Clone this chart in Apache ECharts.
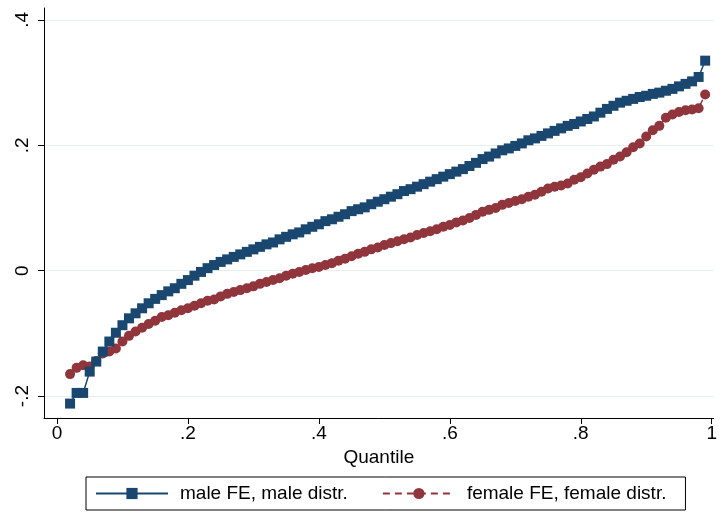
<!DOCTYPE html>
<html>
<head>
<meta charset="utf-8">
<script src="https://cdn.jsdelivr.net/npm/echarts@6/dist/echarts.min.js"></script>
<style>
  html, body { margin: 0; padding: 0; background: #ffffff; }
  #chart { width: 720px; height: 512px; }
</style>
</head>
<body>
<div id="chart"></div>
<script>
// Quantiles .02 … .99
const quantiles = [];
for (let i = 2; i <= 99; i++) quantiles.push(+(i / 100).toFixed(2));

// Male fixed effects evaluated on the male distribution
const maleFE = [
  -0.212, -0.195, -0.195, -0.161, -0.145, -0.129, -0.113, -0.099, -0.087, -0.076,
  -0.068, -0.060, -0.052, -0.045, -0.039, -0.033, -0.028, -0.021, -0.015, -0.008,
  -0.002,  0.004,  0.009,  0.014,  0.018,  0.022,  0.026,  0.030,  0.034,  0.038,
   0.042,  0.045,  0.050,  0.054,  0.058,  0.061,  0.066,  0.070,  0.074,  0.079,
   0.082,  0.086,  0.090,  0.095,  0.098,  0.101,  0.106,  0.110,  0.114,  0.118,
   0.122,  0.127,  0.130,  0.134,  0.138,  0.142,  0.146,  0.150,  0.154,  0.158,
   0.162,  0.167,  0.172,  0.178,  0.182,  0.187,  0.192,  0.195,  0.199,  0.203,
   0.208,  0.211,  0.215,  0.219,  0.223,  0.227,  0.231,  0.234,  0.238,  0.242,
   0.246,  0.252,  0.258,  0.263,  0.268,  0.271,  0.274,  0.277,  0.279,  0.282,
   0.284,  0.287,  0.290,  0.294,  0.298,  0.302,  0.309,  0.335
];

// Female fixed effects evaluated on the female distribution
const femaleFE = [
  -0.165, -0.155, -0.151, -0.153, -0.144, -0.132, -0.129, -0.124, -0.113, -0.104,
  -0.097, -0.091, -0.085, -0.080, -0.074, -0.071, -0.067, -0.063, -0.060, -0.056,
  -0.052, -0.048, -0.046, -0.041, -0.037, -0.034, -0.031, -0.028, -0.025, -0.021,
  -0.018, -0.015, -0.012, -0.008, -0.005, -0.002,  0.001,  0.004,  0.006,  0.009,
   0.012,  0.016,  0.019,  0.023,  0.027,  0.030,  0.034,  0.037,  0.041,  0.044,
   0.047,  0.050,  0.053,  0.057,  0.060,  0.063,  0.066,  0.070,  0.073,  0.077,
   0.080,  0.084,  0.089,  0.094,  0.097,  0.100,  0.105,  0.108,  0.111,  0.114,
   0.118,  0.121,  0.126,  0.131,  0.134,  0.136,  0.139,  0.145,  0.149,  0.155,
   0.161,  0.166,  0.170,  0.177,  0.182,  0.189,  0.197,  0.203,  0.214,  0.224,
   0.231,  0.244,  0.249,  0.253,  0.256,  0.257,  0.259,  0.281
];

const xTickValues = [0, 0.2, 0.4, 0.6, 0.8, 1];
const xTickLabels = ['0', '.2', '.4', '.6', '.8', '1'];
const yTickValues = [-0.2, 0, 0.2, 0.4];
const yTickLabels = ['-.2', '0', '.2', '.4'];

const seriesNames = ['male FE, male distr.', 'female FE, female distr.'];

const NAVY = '#1a476f';
const MAROON = '#90353b';
const FONT = 'Liberation Sans, Arial, sans-serif';

function labelFor(values, labels) {
  return function (v) {
    const i = values.findIndex(t => Math.abs(t - v) < 1e-9);
    return i >= 0 ? labels[i] : '';
  };
}

const chart = echarts.init(document.getElementById('chart'), null, { renderer: 'canvas' });

chart.setOption({
  animation: false,
  backgroundColor: '#ffffff',
  textStyle: { fontFamily: FONT },
  grid: { left: 44, right: 5, top: 8, bottom: 94, containLabel: false },
  xAxis: {
    type: 'value',
    min: -0.0198,
    max: 1.003,
    name: 'Quantile',
    nameLocation: 'middle',
    nameGap: 30,
    nameTextStyle: { fontSize: 19, color: '#000', fontFamily: FONT },
    axisLine: { show: true, onZero: false, lineStyle: { color: '#000', width: 1 } },
    axisTick: { show: true, length: 6, customValues: xTickValues, lineStyle: { color: '#000' } },
    axisLabel: {
      show: true, customValues: xTickValues, margin: 6,
      fontSize: 19, color: '#000', fontFamily: FONT,
      formatter: labelFor(xTickValues, xTickLabels)
    },
    splitLine: { show: false }
  },
  yAxis: {
    type: 'value',
    min: -0.235,
    max: 0.419,
    axisLine: { show: true, onZero: false, lineStyle: { color: '#000', width: 1 } },
    axisTick: { show: true, length: 6, customValues: yTickValues, lineStyle: { color: '#000' } },
    axisLabel: {
      show: true, customValues: yTickValues, margin: 12, rotate: 90,
      fontSize: 19, color: '#000', fontFamily: FONT,
      formatter: labelFor(yTickValues, yTickLabels)
    },
    splitLine: { show: false }
  },
  legend: {
    left: 86,
    top: 477,
    orient: 'horizontal',
    data: seriesNames,
    itemWidth: 72,
    itemHeight: 14,
    itemGap: 34,
    padding: [7, 19, 7, 9],
    borderColor: '#000',
    borderWidth: 1,
    borderRadius: 0,
    backgroundColor: '#fff',
    selectedMode: false,
    textStyle: { fontSize: 19, color: '#000', fontFamily: FONT, padding: [0, 0, 0, 7] }
  },
  series: [
    {
      // horizontal grid lines at the y ticks, kept beneath the markers
      type: 'line',
      data: [],
      silent: true,
      z: 0,
      zlevel: 0,
      markLine: {
        silent: true,
        z: 0,
        symbol: 'none',
        label: { show: false },
        lineStyle: { color: '#e6eef1', width: 1, type: 'solid' },
        data: yTickValues.map(v => ({ yAxis: v }))
      }
    },
    {
      name: seriesNames[0],
      type: 'line',
      z: 3,
      zlevel: 1,
      data: quantiles.map((q, i) => [q, maleFE[i]]),
      symbol: 'rect',
      symbolSize: 10,
      showSymbol: true,
      itemStyle: { color: NAVY },
      lineStyle: { color: NAVY, width: 1.5 }
    },
    {
      name: seriesNames[1],
      type: 'line',
      z: 2,
      zlevel: 1,
      data: quantiles.map((q, i) => [q, femaleFE[i]]),
      symbol: 'circle',
      symbolSize: 10,
      showSymbol: true,
      itemStyle: { color: MAROON },
      lineStyle: { color: MAROON, width: 1.5, type: [7, 5] }
    }
  ]
});
</script>
</body>
</html>
